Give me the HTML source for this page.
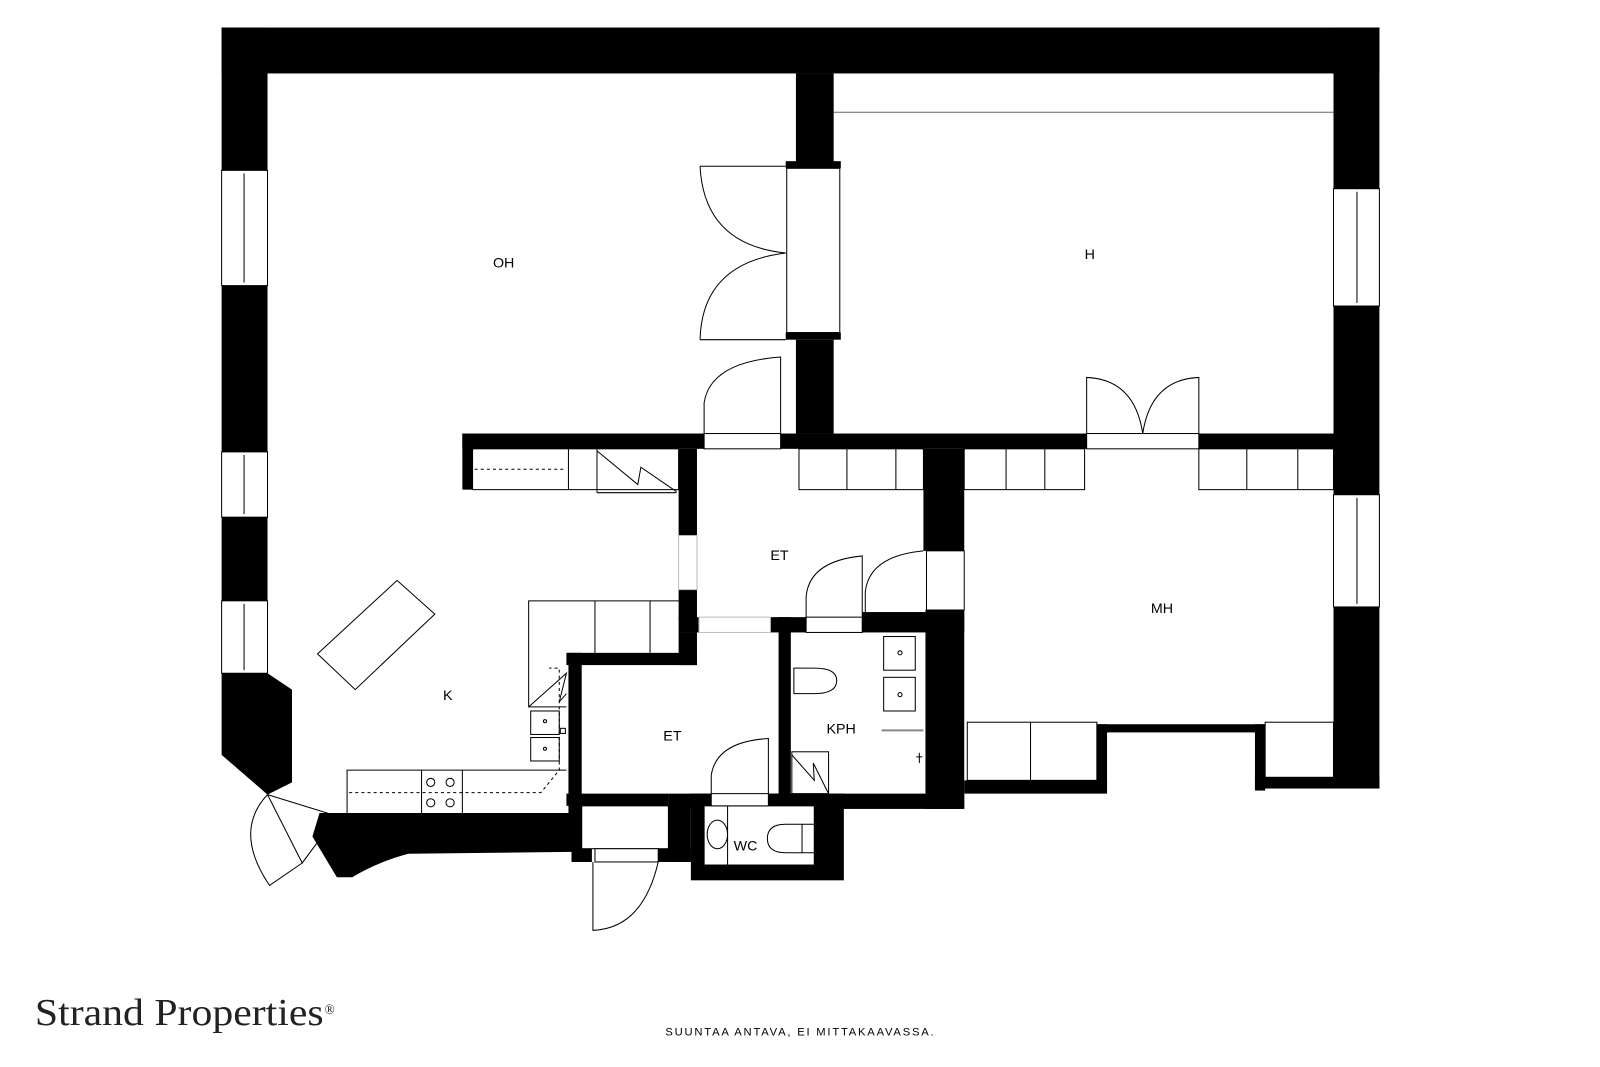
<!DOCTYPE html>
<html><head><meta charset="utf-8"><style>
html,body{margin:0;padding:0;background:#fff;}
svg{display:block;}
</style></head><body>
<svg width="1600" height="1067" viewBox="0 0 1568 1046" xmlns="http://www.w3.org/2000/svg">
<g fill="#000">
<rect x="217" y="27" width="1135" height="45"/>
<rect x="217" y="27" width="45" height="140"/>
<rect x="217" y="280" width="45" height="163"/>
<rect x="217" y="507" width="45" height="82"/>
<polygon points="217,660 262,660 286,676 286,767 262,779 217,740"/>
<rect x="1307" y="27" width="45" height="158"/>
<rect x="1307" y="300" width="45" height="185"/>
<rect x="1307" y="595" width="45" height="178"/>
<rect x="780" y="72" width="37" height="88"/>
<rect x="770" y="158" width="54" height="7"/>
<rect x="770" y="326" width="54" height="7"/>
<rect x="780" y="333" width="37" height="92"/>
<rect x="453" y="425" width="237" height="15"/>
<rect x="765" y="425" width="300" height="15"/>
<rect x="1175" y="425" width="135" height="15"/>
<rect x="453" y="425" width="10" height="55"/>
<rect x="665" y="440" width="18" height="85"/>
<rect x="665" y="578" width="18" height="30"/>
<rect x="665" y="605" width="20" height="15"/>
<rect x="665" y="620" width="18" height="32"/>
<rect x="555" y="640" width="128" height="12"/>
<rect x="557" y="640" width="13" height="160"/>
<rect x="755" y="605" width="35" height="15"/>
<rect x="845" y="600" width="100" height="20"/>
<rect x="763" y="605" width="12" height="185"/>
<rect x="905" y="440" width="40" height="100"/>
<rect x="907" y="598" width="38" height="195"/>
<rect x="655" y="778" width="290" height="15"/>
<rect x="945" y="765" width="140" height="13"/>
<rect x="1075" y="710" width="10" height="65"/>
<rect x="1075" y="710" width="165" height="8"/>
<rect x="1230" y="710" width="10" height="65"/>
<rect x="1230" y="762" width="122" height="11"/>
<rect x="677" y="778" width="150" height="85"/>
<rect x="555" y="778" width="100" height="12"/>
<rect x="655" y="790" width="22" height="55"/>
<path d="M313,797 L570,797 L570,835 L400,837 Q370,845 345,860 L330,860 L306,820 Z"/>
<rect x="560" y="832" width="20" height="13"/>
<rect x="645" y="832" width="32" height="13"/>
</g>
<g fill="#fff" stroke="#000" stroke-width="1">
<rect x="690" y="790" width="108" height="58"/>
<rect x="570" y="790" width="85" height="42"/>
<rect x="771" y="165" width="52" height="161"/>
<rect x="690" y="425" width="75" height="15"/>
<rect x="1065" y="425" width="110" height="15"/>
<rect x="685" y="605" width="70" height="15" stroke="#bbb"/>
<rect x="790" y="605" width="55" height="15"/>
<rect x="908" y="540" width="37" height="58"/>
<rect x="665" y="525" width="18" height="53" stroke="#bbb"/>
<rect x="697" y="778" width="56" height="12"/>
<rect x="583" y="832" width="62" height="13"/>
<rect x="217" y="167" width="45" height="113"/><line x1="239" y1="170" x2="239" y2="277"/>
<rect x="217" y="443" width="45" height="64"/><line x1="239" y1="446" x2="239" y2="504"/>
<rect x="217" y="589" width="45" height="71"/><line x1="239" y1="592" x2="239" y2="657"/>
<rect x="1307" y="185" width="45" height="115"/><line x1="1330" y1="188" x2="1330" y2="297"/>
<rect x="1307" y="485" width="45" height="110"/><line x1="1330" y1="488" x2="1330" y2="592"/>
</g>
<g fill="none" stroke="#000" stroke-width="1">
<line x1="817" y1="110" x2="1307" y2="110" stroke="#666"/>
<path d="M686,163 L770,163"/>
<path d="M686,163 Q690,240 770,248"/><path d="M686,333 L770,333 M686,333 Q688,258 770,248"/>
<path d="M690,425 L690,395 Q696,355 765,350 L765,425"/>
<path d="M1065,425 L1065,370 Q1112,372 1120,425 M1175,425 L1175,370 Q1128,372 1120,425"/>
<rect x="463" y="440" width="202" height="40"/>
<line x1="557" y1="440" x2="557" y2="480"/><line x1="585" y1="440" x2="585" y2="483"/>
<line x1="465" y1="460" x2="555" y2="460" stroke-dasharray="3,3"/>
<path d="M585,442 L625,475 L628,458 L663,482 M585,483 L663,483"/>
<rect x="783" y="440" width="122" height="40"/>
<line x1="830" y1="440" x2="830" y2="480"/><line x1="878" y1="440" x2="878" y2="480"/>
<rect x="945" y="440" width="118" height="40"/>
<line x1="986" y1="440" x2="986" y2="480"/><line x1="1024" y1="440" x2="1024" y2="480"/>
<rect x="1175" y="440" width="132" height="40"/>
<line x1="1222" y1="440" x2="1222" y2="480"/><line x1="1272" y1="440" x2="1272" y2="480"/>
<rect x="948" y="708" width="127" height="57"/><line x1="1010" y1="708" x2="1010" y2="765"/>
<rect x="1240" y="708" width="67" height="54"/>
<polygon points="311,641 389,569 426,602 348,676"/>
<path d="M518,640 L518,589 L665,589 M583,589 L583,640 M637,589 L637,640"/>
<path d="M518,640 L518,693 L555,693 M518,693 L555,660 L548,688 L555,680"/>
<rect x="520" y="697" width="28" height="23"/><rect x="520" y="723" width="28" height="23"/>
<circle cx="534" cy="707" r="1.5"/><circle cx="534" cy="734" r="1.5"/>
<rect x="549" y="714" width="5" height="5"/>
<path d="M340,797 L340,755 L555,755 M413,755 L413,797 M453,755 L453,797"/>
<circle cx="422" cy="767" r="4"/><circle cx="441" cy="767" r="4"/><circle cx="422" cy="787" r="4"/><circle cx="441" cy="787" r="4"/>
<path d="M342,777 L530,777 L548,755 L548,655 L538,655" stroke-dasharray="3,3"/>
<path d="M790,605 L790,585 Q793,550 845,545 L845,605"/>
<path d="M848,600 L848,580 Q852,545 905,540"/>
<path d="M697,778 L697,760 Q702,727 753,724 L753,778"/>
<rect x="866" y="624" width="31" height="33"/><rect x="866" y="664" width="31" height="33"/>
<circle cx="882" cy="640" r="2"/><circle cx="882" cy="681" r="2"/>
<path d="M778,655 L798,655 Q820,655 820,667 Q820,680 798,680 L778,680 Z"/>
<rect x="776" y="737" width="36" height="41"/>
<path d="M776,740 L798,765 L797,748 L812,778"/>
<line x1="864" y1="716" x2="905" y2="716" stroke-width="2" stroke="#888"/>
<path d="M898,742 L904,742 M901,738 L901,748"/>
<line x1="713" y1="790" x2="713" y2="848"/>
<ellipse cx="703" cy="818" rx="10" ry="14"/>
<path d="M798,808 L770,808 Q752,808 752,822 Q752,836 770,836 L798,836"/>
<line x1="786" y1="808" x2="786" y2="836"/>
<path d="M581,845 L581,912 Q630,910 645,845"/>
<path d="M262,779 L330,800 L296,846 L262,779"/>
<path d="M262,779 Q228,815 264,868 L296,846"/>
</g>
<g font-size="14" fill="#000" style="font-family:'Liberation Sans',sans-serif">
<text x="483" y="262">OH</text>
<text x="1063" y="254">H</text>
<text x="755" y="549">ET</text>
<text x="1128" y="601">MH</text>
<text x="434" y="686">K</text>
<text x="650" y="726">ET</text>
<text x="810" y="719">KPH</text>
<text x="719" y="834">WC</text>
</g>
<text x="34" y="1005" font-size="37" fill="#222" textLength="283" lengthAdjust="spacingAndGlyphs" style="font-family:'Liberation Serif',serif">Strand Properties</text>
<text x="318" y="994" font-size="13" fill="#222" style="font-family:'Liberation Serif',serif">®</text>
<text x="652" y="1015" font-size="11" fill="#000" textLength="263" style="font-family:'Liberation Sans',sans-serif">SUUNTAA ANTAVA, EI MITTAKAAVASSA.</text>
</svg>
</body></html>
